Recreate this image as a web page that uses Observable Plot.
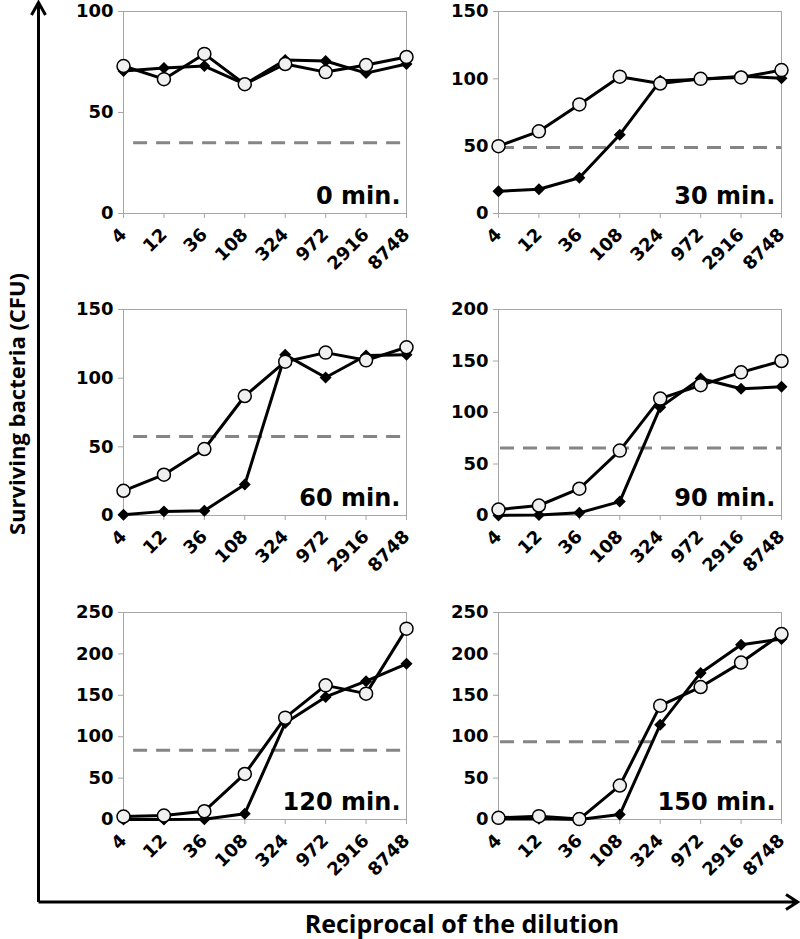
<!DOCTYPE html>
<html><head><meta charset="utf-8">
<script src="https://cdn.jsdelivr.net/npm/d3@7"></script>
<script src="https://cdn.jsdelivr.net/npm/@observablehq/plot@0.6"></script>
<style>
body{margin:0;background:#fff;}
#wrap{position:relative;width:800px;height:939px;overflow:hidden;background:#fff;}
#wrap > svg, #wrap > figure{position:absolute;margin:0;}
</style></head><body><div id="wrap"></div>
<script>
// x categories: reciprocal of the dilution
const dilutions = ["4", "12", "36", "108", "324", "972", "2916", "8748"];
// panel times (min)
const minutes = [0, 30, 60, 90, 120, 150];
// y-axis maxima per panel
const yMaxes = [100, 150, 150, 200, 250, 250];
// dashed reference level per panel
const thresholds = [35, 49, 57.6, 65.5, 83.5, 94];

// filled diamonds series
const diamonds0   = [70.5, 72, 73, 64, 76, 75.5, 69.5, 74];
const diamonds30  = [16.5, 18, 26.5, 58.5, 98.5, 99.5, 102, 100.5];
const diamonds60  = [0.5, 3, 3.5, 22.5, 117, 100.5, 116.5, 117];
const diamonds90  = [0, 0.6, 2.6, 13.5, 105, 133, 123, 125];
const diamonds120 = [0, 0, 0.3, 7, 116.5, 148, 167, 188];
const diamonds150 = [0.5, 1, 0, 6, 114.5, 177, 211, 218];

// open circles series
const circles0   = [73, 66.5, 79, 64, 74, 70, 73.5, 77.5];
const circles30  = [50, 61, 81, 101.6, 96.5, 100, 101, 106.5];
const circles60  = [18, 29.7, 48.4, 87, 112, 118.6, 113, 122.5];
const circles90  = [5.8, 9.7, 26, 63, 113.5, 126.5, 139, 150];
const circles120 = [3.6, 4.8, 10, 55, 123, 162, 152, 230.5];
const circles150 = [2, 4, 0.5, 41, 137.5, 160, 189.5, 224];

const diamondSeries = [diamonds0, diamonds30, diamonds60, diamonds90, diamonds120, diamonds150];
const circleSeries = [circles0, circles30, circles60, circles90, circles120, circles150];

// layout
const frameLefts = [123, 498];
const frameTops = [11, 309, 612];
const frameBottoms = [213, 515, 819];
const dashStarts = [0.25, 0.05];
const ML = 70, MR = 27, MB = 60, W = 380;
const wrap = document.getElementById("wrap");
const gray = "#a6a6a6";

minutes.forEach((m, k) => {
  const col = k % 2, row = Math.floor(k / 2);
  const MT = row === 0 ? frameTops[0] : 14;
  const H = (frameBottoms[row] - frameTops[row]) + MT + MB;
  const yMax = yMaxes[k];
  const data = dilutions.map((lab, i) => ({i, d: diamondSeries[k][i], c: circleSeries[k][i]}));
  const chart = Plot.plot({
    width: W, height: H,
    marginLeft: ML, marginRight: MR, marginTop: MT, marginBottom: MB,
    x: {domain: [0, 7]},
    y: {domain: [0, yMax]},
    style: {fontFamily: "DejaVu Sans", fontWeight: "bold", fontSize: "18px", color: "black", background: "transparent", overflow: "visible"},
    marks: [
      Plot.frame({stroke: gray}),
      Plot.axisY({ticks: d3.range(0, yMax + 1, 50), tickSize: 5, tickPadding: 5, stroke: gray, fill: "black", label: null}),
      Plot.axisX({ticks: d3.range(dilutions.length), tickFormat: i => dilutions[i], tickRotate: -45, tickSize: 5, tickPadding: 13, stroke: gray, fill: "black", label: null}),
      Plot.ruleY([thresholds[k]], {x1: dashStarts[col], x2: 7, stroke: "#858585", strokeWidth: 3, strokeDasharray: "14,9"}),
      Plot.line(data, {x: "i", y: "d", stroke: "black", strokeWidth: 3}),
      Plot.line(data, {x: "i", y: "c", stroke: "black", strokeWidth: 3}),
      Plot.dot(data, {x: "i", y: "d", symbol: "diamond2", r: 5.4, fill: "black"}),
      Plot.dot(data, {x: "i", y: "c", r: 6.5, fill: "#f0f0f0", stroke: "black", strokeWidth: 1.5}),
      Plot.text([`${m} min.`], {text: d => d, frameAnchor: "bottom-right", dx: -6, dy: -10, fontSize: 24, fontWeight: "bold"})
    ]
  });
  chart.style.left = (frameLefts[col] - ML) + "px";
  chart.style.top = (frameTops[row] - MT) + "px";
  wrap.appendChild(chart);
});

// overall axes arrows and titles
const ns = "http://www.w3.org/2000/svg";
const ov = document.createElementNS(ns, "svg");
ov.setAttribute("width", 800); ov.setAttribute("height", 939);
ov.style.left = "0px"; ov.style.top = "0px"; ov.style.pointerEvents = "none";
ov.innerHTML = `
  <path d="M38.5,902 V3 M31.5,15 L38.5,2.5 L45.5,15" fill="none" stroke="black" stroke-width="3"/>
  <path d="M38.5,902 H796 M786,894.5 L797.5,902 L786,909.5" fill="none" stroke="black" stroke-width="3"/>
  <text x="462" y="933" text-anchor="middle" font-family="Open Sans" font-weight="bold" font-size="25">Reciprocal of the dilution</text>
  <text transform="translate(25,404) rotate(-90)" text-anchor="middle" font-family="Open Sans" font-weight="bold" font-size="22">Surviving bacteria (CFU)</text>
`;
wrap.appendChild(ov);
</script></body></html>
